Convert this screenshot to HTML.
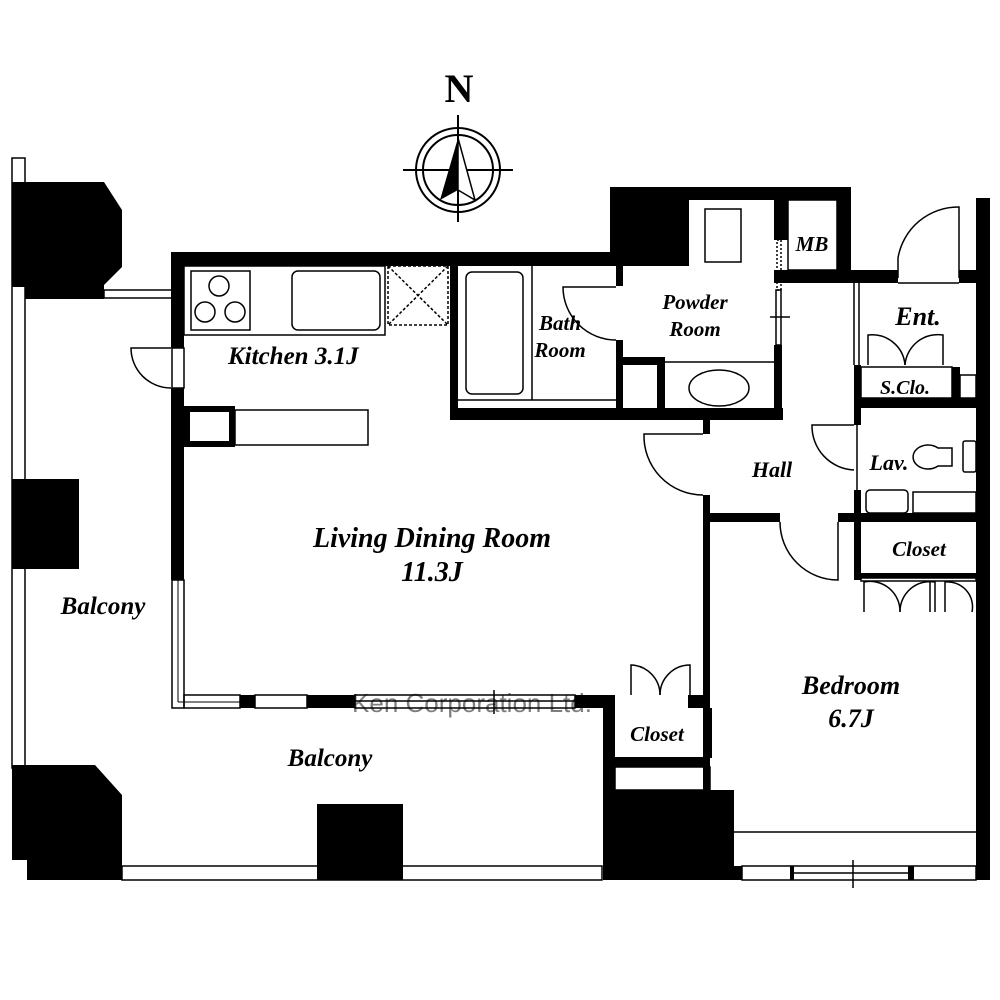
<!DOCTYPE html>
<html><head><meta charset="utf-8"><style>
html,body{margin:0;padding:0;background:#fff;}
svg{display:block;}
text{font-family:"Liberation Serif",serif;font-weight:bold;font-style:italic;fill:#000;}
</style></head><body>
<svg width="1000" height="1000" viewBox="0 0 1000 1000" xmlns="http://www.w3.org/2000/svg">
<rect width="1000" height="1000" fill="#fff"/>
<g stroke="#000" stroke-width="2" fill="none">
<circle cx="458" cy="170" r="42"/><circle cx="458" cy="170" r="35"/>
<line x1="403" y1="170" x2="513" y2="170"/><line x1="458" y1="115" x2="458" y2="222"/>
</g>
<polygon points="458,138 440,200 458,190" fill="#000"/>
<polygon points="458,138 475,200 458,190" fill="#fff" stroke="#000" stroke-width="1.5"/>
<text x="459" y="102" font-size="40" text-anchor="middle" style="font-style:normal">N</text>

<rect x="12" y="158" width="13" height="610" fill="#fff" stroke="#000" stroke-width="1.5"/>
<polygon points="12,182 104,182 122,210 122,267 104,285 104,299 25,299 25,287 12,287" fill="#000"/>
<rect x="104" y="290" width="68" height="8" fill="#fff" stroke="#000" stroke-width="1.5"/>
<rect x="12" y="479" width="67" height="90" fill="#000"/>
<polygon points="12,765 95,765 122,795 122,880 27,880 27,860 12,860" fill="#000"/>
<rect x="122" y="866" width="480" height="14" fill="#fff" stroke="#000" stroke-width="1.5"/>
<rect x="317" y="804" width="86" height="76" fill="#000"/>

<g fill="#000">
<rect x="171" y="252" width="441" height="14"/>
<rect x="171" y="252" width="13" height="96"/>
<rect x="171" y="388" width="13" height="192"/>
<rect x="610" y="187" width="241" height="13"/>
<rect x="610" y="187" width="79" height="79"/>
<rect x="837" y="187" width="14" height="96"/>
<rect x="774" y="200" width="14" height="40"/>
<rect x="774" y="270" width="124" height="13"/>
<rect x="959" y="270" width="20" height="13"/>
<rect x="976" y="198" width="14" height="682"/>
<rect x="450" y="266" width="8" height="154"/>
<rect x="450" y="408" width="333" height="12"/>
<rect x="616" y="266" width="7" height="20"/>
<rect x="616" y="340" width="7" height="80"/>
<rect x="616" y="357" width="49" height="8"/>
<rect x="657" y="357" width="8" height="60"/>
<rect x="774" y="345" width="8" height="70"/>
<rect x="703" y="420" width="7" height="14"/>
<rect x="703" y="495" width="7" height="385"/>
<rect x="854" y="365" width="7" height="60"/>
<rect x="854" y="490" width="7" height="90"/>
<rect x="861" y="398" width="115" height="10"/>
<rect x="952" y="367" width="8" height="31"/>
<rect x="710" y="513" width="70" height="9"/>
<rect x="838" y="513" width="138" height="9"/>
<rect x="861" y="573" width="115" height="5"/>
<rect x="184" y="406" width="51" height="41"/>
<rect x="240" y="695" width="15" height="13"/>
<rect x="307" y="695" width="48" height="13"/>
<rect x="575" y="695" width="40" height="13"/>
<rect x="688" y="695" width="22" height="13"/>
<rect x="603" y="708" width="12" height="172"/>
<rect x="603" y="757" width="107" height="10"/>
<rect x="603" y="790" width="131" height="90"/>
<rect x="704" y="708" width="8" height="50"/>
<rect x="734" y="866" width="8" height="14"/>
<rect x="790" y="866" width="4" height="14"/>
<rect x="908" y="866" width="6" height="14"/>
</g>
<rect x="190" y="412" width="39" height="29" fill="#fff"/>
<rect x="235" y="410" width="133" height="35" fill="#fff" stroke="#000" stroke-width="1.5"/>
<rect x="172" y="580" width="12" height="128" fill="#fff" stroke="#000" stroke-width="1.5"/>
<line x1="178" y1="580" x2="178" y2="702" stroke="#000" stroke-width="1"/>
<line x1="178" y1="702" x2="240" y2="702" stroke="#000" stroke-width="1"/>
<g stroke="#000" stroke-width="1.5" fill="none">
<rect x="184" y="695" width="56" height="13"/>
<rect x="255" y="695" width="52" height="13"/>
<rect x="355" y="695" width="220" height="13"/>
<line x1="355" y1="701" x2="575" y2="701"/>
<line x1="494" y1="690" x2="494" y2="714"/>
<path d="M171,348 L131,348 A40,40 0 0 0 171,388"/>
<rect x="172" y="348" width="12" height="40" fill="#fff"/>
<rect x="184" y="266" width="201" height="69"/>
<rect x="191" y="271" width="59" height="59"/>
<circle cx="219" cy="286" r="10"/><circle cx="205" cy="312" r="10"/><circle cx="235" cy="312" r="10"/>
<rect x="292" y="271" width="88" height="59" rx="6"/>
<rect x="388" y="266" width="60" height="59" stroke-dasharray="3,2"/>
<line x1="388" y1="266" x2="448" y2="325" stroke-dasharray="3,2"/>
<line x1="448" y1="266" x2="388" y2="325" stroke-dasharray="3,2"/>
<rect x="466" y="272" width="57" height="122" rx="6"/>
<line x1="532" y1="266" x2="532" y2="400"/>
<line x1="458" y1="400" x2="616" y2="400"/>
<path d="M616,287 L563,287 A53,53 0 0 0 616,340"/>
<rect x="705" y="209" width="36" height="53"/>
<line x1="665" y1="362" x2="774" y2="362"/>
<ellipse cx="719" cy="388" rx="30" ry="18"/>
<rect x="777" y="240" width="4" height="50" stroke-dasharray="2,2"/>
<rect x="776" y="290" width="5" height="55"/>
<line x1="770" y1="317" x2="790" y2="317"/>
<rect x="788" y="200" width="49" height="70"/>
<path d="M898,278 L898,258 A61,61 0 0 1 959,207 L959,278"/>
<line x1="898" y1="283" x2="959" y2="283"/>
<line x1="854" y1="283" x2="854" y2="365"/><line x1="859" y1="283" x2="859" y2="365"/>
<path d="M868,365 L868,335 A33,33 0 0 1 905,365"/>
<path d="M943,365 L943,335 A33,33 0 0 0 905,365"/>
<rect x="861" y="367" width="91" height="31"/>
<rect x="960" y="375" width="16" height="23"/>
<path d="M703,434 L644,434 A59,59 0 0 0 703,495"/>
<path d="M854,425 L812,425 A44,44 0 0 0 854,470"/>
<line x1="857" y1="425" x2="857" y2="490"/>
<rect x="963" y="441" width="13" height="31" rx="2"/>
<path d="M952,448 L938,448 A15,12 0 1 0 938,466 L952,466 Z"/>
<rect x="866" y="490" width="42" height="23" rx="4"/>
<rect x="913" y="492" width="63" height="21"/>
<path d="M780,522 A58,58 0 0 0 838,580 L838,522"/>
<rect x="861" y="578" width="115" height="3"/>
<path d="M864,612 L864,582 A30,30 0 0 1 900,612"/>
<path d="M935,612 L935,582 A30,30 0 0 0 900,612"/>
<path d="M945,612 L945,582 A25,25 0 0 1 972,612"/>
<line x1="930" y1="582" x2="930" y2="612"/>
<line x1="712" y1="832" x2="976" y2="832"/>
<rect x="742" y="866" width="234" height="14"/>
<line x1="794" y1="873" x2="908" y2="873"/>
<line x1="853" y1="860" x2="853" y2="888"/>
<path d="M631,695 L631,665 A30,30 0 0 1 660,695"/>
<path d="M690,695 L690,665 A30,30 0 0 0 660,695"/>
<rect x="615" y="767" width="95" height="23"/>
</g>
<text x="228" y="364" font-size="25">Kitchen 3.1J</text>
<text x="432" y="547" font-size="28" text-anchor="middle">Living Dining Room</text>
<text x="432" y="581" font-size="28" text-anchor="middle">11.3J</text>
<text x="103" y="614" font-size="25" text-anchor="middle">Balcony</text>
<text x="330" y="766" font-size="25" text-anchor="middle">Balcony</text>
<text x="851" y="694" font-size="26" text-anchor="middle">Bedroom</text>
<text x="851" y="727" font-size="26" text-anchor="middle">6.7J</text>
<text x="657" y="741" font-size="21" text-anchor="middle">Closet</text>
<text x="919" y="556" font-size="21" text-anchor="middle">Closet</text>
<text x="772" y="477" font-size="22" text-anchor="middle">Hall</text>
<text x="889" y="470" font-size="22" text-anchor="middle">Lav.</text>
<text x="905" y="394" font-size="20" text-anchor="middle">S.Clo.</text>
<text x="918" y="325" font-size="26" text-anchor="middle">Ent.</text>
<text x="812" y="251" font-size="21" text-anchor="middle">MB</text>
<text x="695" y="309" font-size="21" text-anchor="middle">Powder</text>
<text x="695" y="336" font-size="21" text-anchor="middle">Room</text>
<text x="560" y="330" font-size="21" text-anchor="middle">Bath</text>
<text x="560" y="357" font-size="21" text-anchor="middle">Room</text>
<text x="472" y="712" font-size="26" text-anchor="middle" style="font-style:normal;font-weight:normal;font-family:'Liberation Sans',sans-serif" fill="#e6e6e6" opacity="0.5">Ken Corporation Ltd.</text>
</svg>
</body></html>
